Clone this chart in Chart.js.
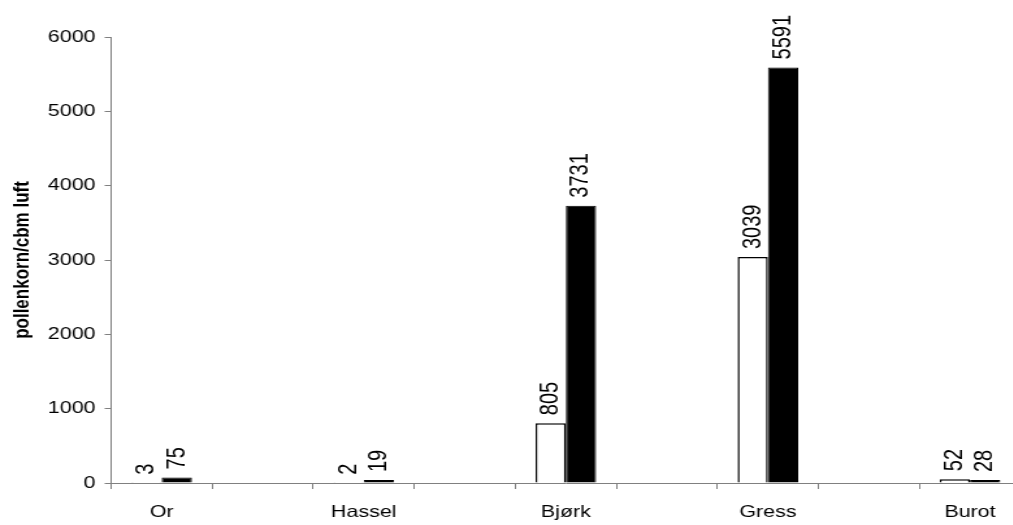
<!DOCTYPE html>
<html>
<head>
<meta charset="utf-8">
<script src="https://cdn.jsdelivr.net/npm/chart.js@4.4.0/dist/chart.umd.min.js"></script>
<style>
  html, body { margin: 0; padding: 0; background: #fff; overflow: hidden; }
  #wrap { width: 1013px; height: 525px; overflow: hidden; }
  #pollenChart { display: block; }
</style>
</head>
<body>
<!-- original sheet was rendered stretched sideways, so the canvas is stretched the same way -->
<div id="wrap"><canvas id="pollenChart" width="790" height="525" style="width:1027px;height:525px"></canvas></div>
<script>
// pollen species, every other slot on the axis is left empty
const categories = ["Or", "Hassel", "Bjørk", "Gress", "Burot"];
const seriesWhite = [3, 2, 805, 3039, 52];
const seriesBlack = [75, 19, 3731, 5591, 28];
const yTicks = [0, 1000, 2000, 3000, 4000, 5000, 6000];

// spread the five categories out over nine slots like the original sheet
const slotLabels = [];
const slotWhite = [];
const slotBlack = [];
categories.forEach(function(name, i) {
    slotLabels.push(name);
    slotWhite.push(seriesWhite[i]);
    slotBlack.push(seriesBlack[i]);
    if (i < categories.length - 1) {
        slotLabels.push("");
        slotWhite.push(null);
        slotBlack.push(null);
    }
});

const FONT = '"Liberation Sans", Arial, sans-serif';

// rotated value labels above each bar
const barLabels = {
    id: "barLabels",
    afterDatasetsDraw(chart) {
        const ctx = chart.ctx;
        ctx.save();
        ctx.font = "20px " + FONT;
        ctx.fillStyle = "#000";
        chart.data.datasets.forEach(function(ds, i) {
            chart.getDatasetMeta(i).data.forEach(function(bar, j) {
                const v = ds.data[j];
                if (v === null || v === undefined) return;
                ctx.save();
                ctx.translate(bar.x, bar.y - 8);
                ctx.rotate(-Math.PI / 2);
                ctx.textAlign = "left";
                ctx.textBaseline = "middle";
                ctx.fillText(String(v), 0, 0);
                ctx.restore();
            });
        });
        ctx.restore();
    }
};

new Chart(document.getElementById("pollenChart").getContext("2d"), {
    type: "bar",
    data: {
        labels: slotLabels,
        datasets: [
            {
                data: slotWhite,
                backgroundColor: "#ffffff",
                borderColor: "#000000",
                borderWidth: 1.5,
                categoryPercentage: 0.6,
                barPercentage: 1.0
            },
            {
                data: slotBlack,
                backgroundColor: "#000000",
                borderColor: "#000000",
                borderWidth: 1,
                minBarLength: 3,
                categoryPercentage: 0.6,
                barPercentage: 1.0
            }
        ]
    },
    options: {
        responsive: false,
        animation: false,
        layout: { padding: { top: 37, left: 3.5, right: 5, bottom: 0 } },
        plugins: {
            legend: { display: false },
            tooltip: { enabled: false }
        },
        scales: {
            x: {
                offset: true,
                grid: {
                    offset: true,
                    drawOnChartArea: false,
                    drawTicks: true,
                    tickLength: 6,
                    color: "#808080"
                },
                border: { color: "#808080", width: 1 },
                ticks: {
                    autoSkip: false,
                    maxRotation: 0,
                    padding: 14,
                    color: "#000",
                    font: { family: FONT, size: 16.5 }
                },
                afterFit: function(scale) { scale.height = 42; }
            },
            y: {
                min: yTicks[0],
                max: yTicks[yTicks.length - 1],
                afterBuildTicks: function(scale) {
                    scale.ticks = yTicks.map(function(v) { return { value: v }; });
                },
                grid: {
                    drawOnChartArea: false,
                    drawTicks: true,
                    tickLength: 5,
                    color: "#808080"
                },
                border: { color: "#808080", width: 1 },
                ticks: {
                    padding: 7,
                    color: "#000",
                    font: { family: FONT, size: 16.5 },
                    callback: function(value) { return String(value); }
                },
                title: {
                    display: true,
                    text: "pollenkorn/cbm luft",
                    color: "#000",
                    font: { family: FONT, size: 17, weight: "bold" }
                },
                afterFit: function(scale) { scale.width = 82; }
            }
        }
    },
    plugins: [barLabels]
});
</script>
</body>
</html>
